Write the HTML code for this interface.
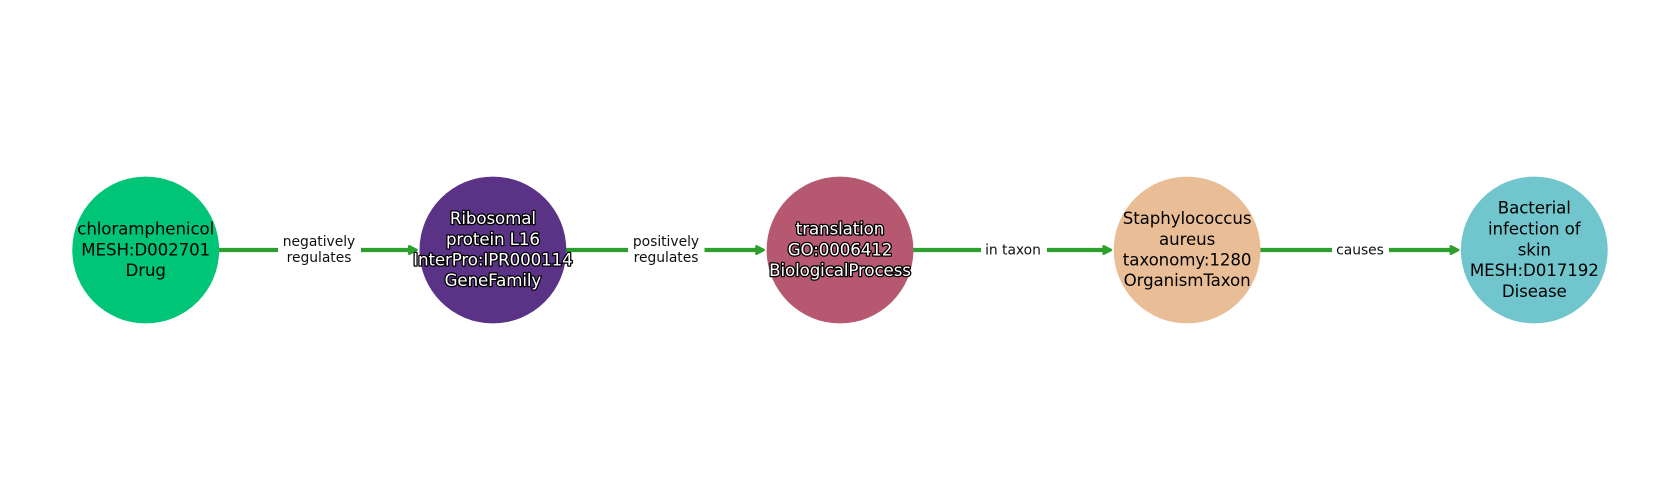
<!DOCTYPE html>
<html><head><meta charset="utf-8"><style>
html,body{margin:0;padding:0;background:#fff}
svg{display:block}
text{font-family:"DejaVu Sans",sans-serif;text-anchor:middle;fill:#000}
.n{font-size:16.67px;letter-spacing:-0.1px}
.e{font-size:13.89px;fill:#111;letter-spacing:-0.03px}
.o{fill:#fff;stroke:#000;stroke-width:2.6px;paint-order:stroke;stroke-linejoin:round}
</style></head><body>
<svg width="1680" height="500" viewBox="0 0 1680 500" xmlns="http://www.w3.org/2000/svg">
<rect width="1680" height="500" fill="#fff"/>
<g stroke="#2ca02c" stroke-width="4.2" fill="none">
<line x1="218" y1="250" x2="410" y2="250"/>
<line x1="565" y1="250" x2="757" y2="250"/>
<line x1="912" y1="250" x2="1104" y2="250"/>
<line x1="1260" y1="250" x2="1451" y2="250"/>
</g>
<g fill="#2ca02c" stroke="#2ca02c" stroke-width="2.4" stroke-linejoin="round">
<path d="M409.200 246.200L416.600 250L409.200 253.800Z"/>
<path d="M756.400 246.200L763.800 250L756.400 253.800Z"/>
<path d="M1103.600 246.200L1111 250L1103.600 253.800Z"/>
<path d="M1450.800 246.200L1458.200 250L1450.800 253.800Z"/>
</g>
<g fill="#fff">
<rect x="278" y="235" width="83" height="30"/>
<rect x="628" y="235" width="76.500" height="30"/>
<rect x="981" y="240" width="66" height="20"/>
<rect x="1332" y="240" width="57" height="20"/>
</g>
<circle cx="145.700" cy="250" r="73.400" fill="#00c476"/>
<circle cx="492.900" cy="250" r="73.400" fill="#5a3286"/>
<circle cx="840" cy="250" r="73.400" fill="#b55870"/>
<circle cx="1187.100" cy="250" r="73.400" fill="#e9be96"/>
<circle cx="1534.300" cy="250" r="73.400" fill="#70c6cc"/>
<g class="n">
<text class="n" x="145.700" y="234.500">chloramphenicol</text>
<text class="n" x="145.700" y="255.500">MESH:D002701</text>
<text class="n" x="145.700" y="276">Drug</text>
<text class="n o" x="492.900" y="224">Ribosomal</text>
<text class="n o" x="492.900" y="245">protein L16</text>
<text class="n o" x="492.900" y="265.500">InterPro:IPR000114</text>
<text class="n o" x="492.900" y="286">GeneFamily</text>
<text class="n o" x="840" y="234.500">translation</text>
<text class="n o" x="840" y="255.500">GO:0006412</text>
<text class="n o" x="840" y="276">BiologicalProcess</text>
<text class="n" x="1187.100" y="224">Staphylococcus</text>
<text class="n" x="1187.100" y="245">aureus</text>
<text class="n" x="1187.100" y="265.500">taxonomy:1280</text>
<text class="n" x="1187.100" y="286">OrganismTaxon</text>
<text class="n" x="1534.300" y="213.500">Bacterial</text>
<text class="n" x="1534.300" y="234.500">infection of</text>
<text class="n" x="1534.300" y="255.500">skin</text>
<text class="n" x="1534.300" y="276">MESH:D017192</text>
<text class="n" x="1534.300" y="297">Disease</text>
</g>
<text class="e" x="319" y="246">negatively</text>
<text class="e" x="319" y="262">regulates</text>
<text class="e" x="666" y="246">positively</text>
<text class="e" x="666" y="262">regulates</text>
<text class="e" x="1013" y="254.500">in taxon</text>
<text class="e" x="1360" y="254.500">causes</text>
</svg>
</body></html>
